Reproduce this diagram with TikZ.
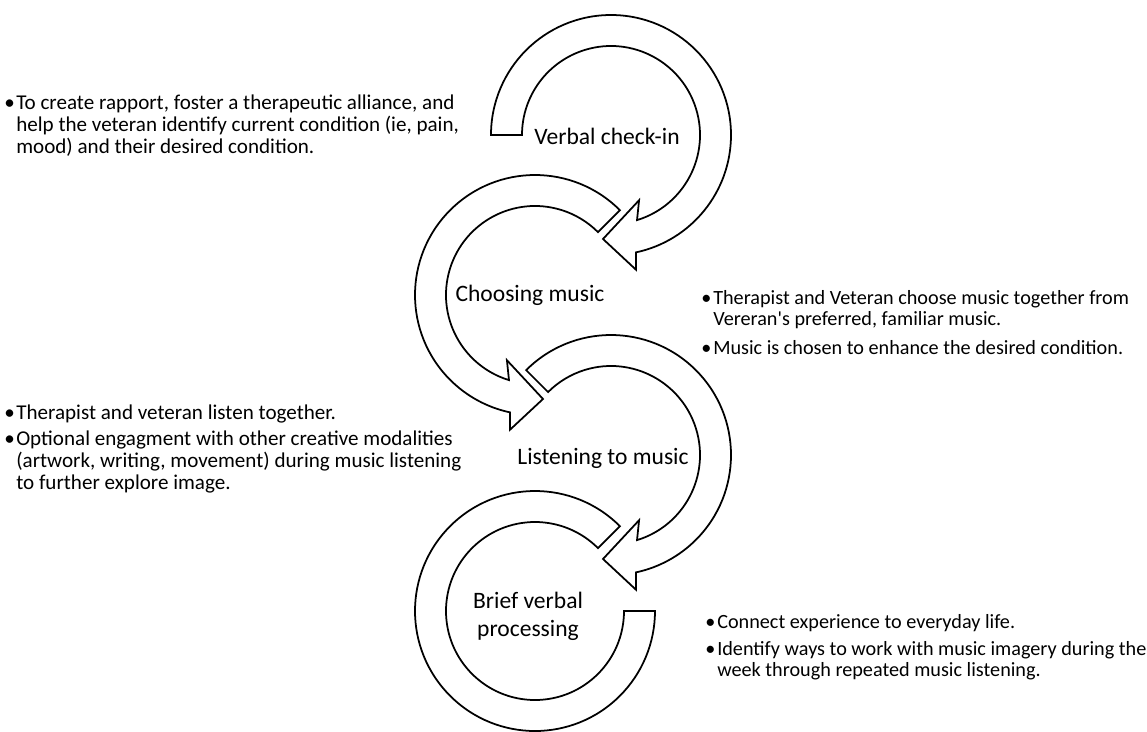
\documentclass[tikz,border=0pt]{standalone}
\usepackage{fontspec}
\setmainfont{Carlito}
\newcommand{\bul}{\makebox[6.8pt][l]{\textbullet}}
\newcommand{\ind}{\hspace*{6.8pt}}

\begin{document}
\begin{tikzpicture}[x=0.02cm, y=0.02cm,
  ring/.style={draw=black, line width=1pt, fill=white},
  steplabel/.style={font=\fontsize{13.4}{16}\selectfont, align=center},
  notes/.style={anchor=north west, inner sep=0pt, align=left, font=\fontsize{11.5}{12.3}\selectfont},
  leftnotes/.style={notes, font=\fontsize{12}{12.3}\selectfont}]
\useasboundingbox (0,0) rectangle (1147,-731);

% verbal check-in
\begin{scope}[shift={(611,-135)}]
\draw[ring] (180:120) arc[start angle=180, end angle=-78, radius=120] -- (-79.5:137) -- (-94.4:104.3)
  -- (-66.7:71) -- (-73:89) arc[start angle=-73, end angle=180, radius=89] -- cycle;
\end{scope}
% choosing music
\begin{scope}[shift={(535,-295)}]
\draw[ring] (45:120) arc[start angle=45, end angle=258, radius=120] -- (259.5:137) -- (274.4:104.3)
  -- (246.7:71) -- (253:89) arc[start angle=253, end angle=45, radius=89] -- cycle;
\end{scope}
% listening to music
\begin{scope}[shift={(611,-455)}]
\draw[ring] (135:120) arc[start angle=135, end angle=-78, radius=120] -- (-79.5:137) -- (-94.4:104.3)
  -- (-66.7:71) -- (-73:89) arc[start angle=-73, end angle=135, radius=89] -- cycle;
\end{scope}
% brief verbal processing
\begin{scope}[shift={(535,-611)}]
\draw[ring] (45:120) arc[start angle=45, end angle=360, radius=120] -- (0:89)
  arc[start angle=360, end angle=45, radius=89] -- cycle;
\end{scope}

\node[steplabel] (verbal) at (607,-136) {Verbal check-in};
\node[steplabel] (choosing) at (530,-295) {Choosing music};
\node[steplabel] (listening) at (603,-458) {Listening to music};
\node[steplabel] (brief) at (528,-616) {Brief verbal\\processing};

\node[leftnotes] (note1) at (4,-95) {\bul To create rapport, foster a therapeutic alliance, and\\
  \ind help the veteran identify current condition (ie, pain,\\
  \ind mood) and their desired condition.};
\node[notes] (note2) at (701,-290) {\bul Therapist and Veteran choose music together from\\
  \ind Vereran\textquotesingle s preferred, familiar music.\\[4pt]
  \bul Music is chosen to enhance the desired condition.};
\node[leftnotes] (note3) at (4,-404) {\bul Therapist and veteran listen together.\\[3pt]
  \bul Optional engagment with other creative modalities\\
  \ind (artwork, writing, movement) during music listening\\
  \ind to further explore image.};
\node[notes] (note4) at (705,-614) {\bul Connect experience to everyday life.\\[3pt]
  \bul Identify ways to work with music imagery during the\\
  \ind week through repeated music listening.};
\end{tikzpicture}
\end{document}
